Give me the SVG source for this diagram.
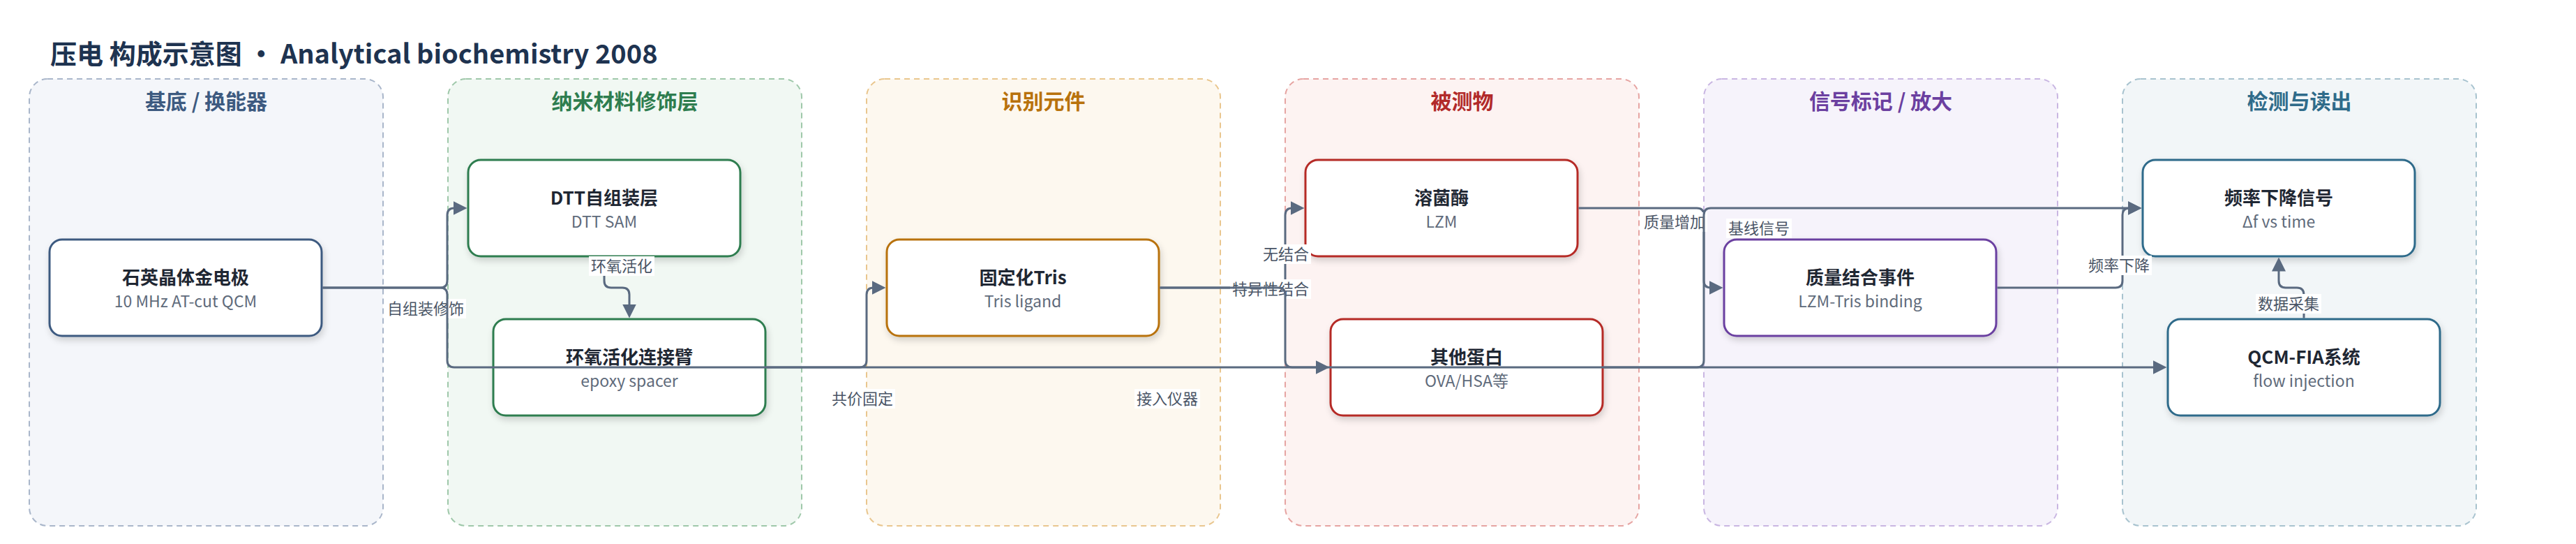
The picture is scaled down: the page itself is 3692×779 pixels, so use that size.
<svg xmlns="http://www.w3.org/2000/svg" width="3692" height="779" viewBox="0 0 3692 779">
<style>
text{font-family:"Noto Sans CJK SC","Noto Sans",sans-serif}
.title{font-size:38px;font-weight:700;fill:#1e3350}
.lane{stroke-width:2;stroke-dasharray:8 6}
.lt{font-size:30px;font-weight:700;text-anchor:middle}
.node rect{fill:#fff;stroke-width:3;filter:url(#sh)}
.nt{font-size:26px;font-weight:700;fill:#1f2733;text-anchor:middle}
.ns{font-size:23px;fill:#5f6b7b;text-anchor:middle}
.edge{fill:none;stroke:#5a6a80;stroke-width:3;marker-end:url(#ah)}
.lb rect{fill:#fff}
.lb text{font-size:22px;fill:#4a5566;text-anchor:middle}
</style>
<defs>
<filter id="sh" x="-10%" y="-10%" width="120%" height="130%"><feDropShadow dx="2" dy="5" stdDeviation="5" flood-color="#000" flood-opacity="0.16"/></filter>
<marker id="ah" viewBox="0 0 20 20" refX="10" refY="10" markerWidth="20" markerHeight="20" markerUnits="userSpaceOnUse" orient="auto"><path d="M0,0 L20,10 L0,20 z" fill="#5a6a80"/></marker>
</defs>
<rect width="3692" height="779" fill="#fff"/>
<text class="title" x="72" y="91">压电 构成示意图 · Analytical biochemistry 2008</text>
<g id="lanes">
<rect class="lane" x="42" y="113" width="507" height="640" rx="26" fill="#f4f6fa" stroke="#a9b6ca"/>
<rect class="lane" x="642" y="113" width="507" height="640" rx="26" fill="#f1f8f3" stroke="#9fc8aa"/>
<rect class="lane" x="1242" y="113" width="507" height="640" rx="26" fill="#fdf8ef" stroke="#e9c68e"/>
<rect class="lane" x="1842" y="113" width="507" height="640" rx="26" fill="#fdf3f2" stroke="#e6a4a2"/>
<rect class="lane" x="2442" y="113" width="507" height="640" rx="26" fill="#f6f3fb" stroke="#c9b6e2"/>
<rect class="lane" x="3042" y="113" width="507" height="640" rx="26" fill="#f2f6f8" stroke="#a8c3cf"/>
<text class="lt" x="295.5" y="156" fill="#3d5a80">基底 / 换能器</text>
<text class="lt" x="895.5" y="156" fill="#2e7d4f">纳米材料修饰层</text>
<text class="lt" x="1495.5" y="156" fill="#b8720c">识别元件</text>
<text class="lt" x="2095.5" y="156" fill="#b22a2a">被测物</text>
<text class="lt" x="2695.5" y="156" fill="#6b3fa0">信号标记 / 放大</text>
<text class="lt" x="3295.5" y="156" fill="#2f6b8a">检测与读出</text>
</g>
<g id="n1" class="node"><rect x="71" y="343" width="390" height="138" rx="18" stroke="#3d5a80"/><text class="nt" x="266" y="407">石英晶体金电极</text><text class="ns" x="266" y="440">10 MHz AT-cut QCM</text></g>
<g id="n2" class="node"><rect x="671" y="229" width="390" height="138" rx="18" stroke="#2e7d4f"/><text class="nt" x="866" y="293">DTT自组装层</text><text class="ns" x="866" y="326">DTT SAM</text></g>
<g id="n3" class="node"><rect x="707" y="457" width="390" height="138" rx="18" stroke="#2e7d4f"/><text class="nt" x="902" y="521">环氧活化连接臂</text><text class="ns" x="902" y="554">epoxy spacer</text></g>
<g id="n4" class="node"><rect x="1271" y="343" width="390" height="138" rx="18" stroke="#b8720c"/><text class="nt" x="1466" y="407">固定化Tris</text><text class="ns" x="1466" y="440">Tris ligand</text></g>
<g id="n5" class="node"><rect x="1871" y="229" width="390" height="138" rx="18" stroke="#b52a25"/><text class="nt" x="2066" y="293">溶菌酶</text><text class="ns" x="2066" y="326">LZM</text></g>
<g id="n6" class="node"><rect x="1907" y="457" width="390" height="138" rx="18" stroke="#b52a25"/><text class="nt" x="2102" y="521">其他蛋白</text><text class="ns" x="2102" y="554">OVA/HSA等</text></g>
<g id="n7" class="node"><rect x="2471" y="343" width="390" height="138" rx="18" stroke="#6b3fa0"/><text class="nt" x="2666" y="407">质量结合事件</text><text class="ns" x="2666" y="440">LZM-Tris binding</text></g>
<g id="n8" class="node"><rect x="3071" y="229" width="390" height="138" rx="18" stroke="#2f6b8a"/><text class="nt" x="3266" y="293">频率下降信号</text><text class="ns" x="3266" y="326">Δf vs time</text></g>
<g id="n9" class="node"><rect x="3107" y="457" width="390" height="138" rx="18" stroke="#2f6b8a"/><text class="nt" x="3302" y="521">QCM-FIA系统</text><text class="ns" x="3302" y="554">flow injection</text></g>
<g id="edges">
<path class="edge" d="M462.5,412 H631 Q641,412 641,402 V308 Q641,298 651,298 H659.5"/>
<g class="lb"><rect x="552" y="428" width="116" height="28"/><text x="610" y="450">自组装修饰</text></g>
<path class="edge" d="M866,368.5 V402 Q866,412 876,412 H892 Q902,412 902,422 V445.5"/>
<g class="lb"><rect x="844" y="367" width="94" height="28"/><text x="891" y="389">环氧活化</text></g>
<path class="edge" d="M1098.5,526 H1232 Q1242,526 1242,516 V422 Q1242,412 1252,412 H1259.5"/>
<g class="lb"><rect x="1189" y="557" width="94" height="28"/><text x="1236" y="579">共价固定</text></g>
<path class="edge" d="M1662.5,412 H1832 Q1842,412 1842,402 V308 Q1842,298 1852,298 H1859.5"/>
<g class="lb"><rect x="1763" y="400" width="116" height="28"/><text x="1821" y="422">特异性结合</text></g>
<path class="edge" d="M1662.5,412 H1832 Q1842,412 1842,422 V516 Q1842,526 1852,526 H1895.5"/>
<g class="lb"><rect x="1807" y="350" width="72" height="28"/><text x="1843" y="372">无结合</text></g>
<path class="edge" d="M2262.5,298 H2432 Q2442,298 2442,308 V402 Q2442,412 2452,412 H2459.5"/>
<g class="lb"><rect x="2353" y="304" width="94" height="28"/><text x="2400" y="326">质量增加</text></g>
<path class="edge" d="M2298.5,526 H2432 Q2442,526 2442,516 V308 Q2442,298 2452,298 H3059.5"/>
<g class="lb"><rect x="2474" y="313" width="94" height="28"/><text x="2521" y="335">基线信号</text></g>
<path class="edge" d="M2862.5,412 H3032 Q3042,412 3042,402 V308 Q3042,298 3052,298 H3059.5"/>
<g class="lb"><rect x="2990" y="366" width="94" height="28"/><text x="3037" y="388">频率下降</text></g>
<path class="edge" d="M3302,455.5 V422 Q3302,412 3292,412 H3276 Q3266,412 3266,402 V378.5"/>
<g class="lb"><rect x="3233" y="421" width="94" height="28"/><text x="3280" y="443">数据采集</text></g>
<path class="edge" d="M462.5,412 H631 Q641,412 641,422 V516 Q641,526 651,526 H3095.5"/>
<g class="lb"><rect x="1626" y="557" width="94" height="28"/><text x="1673" y="579">接入仪器</text></g>
</g>
</svg>
